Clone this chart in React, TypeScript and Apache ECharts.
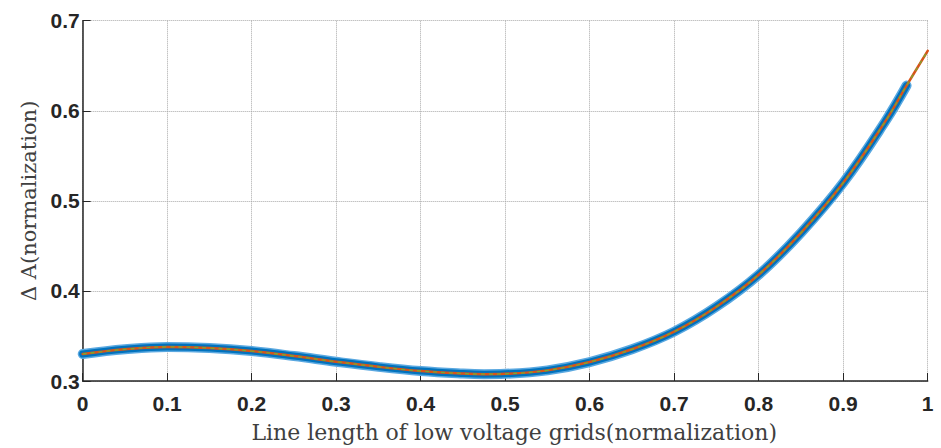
import React, { useEffect, useRef } from "react";
import * as echarts from "echarts";

// Normalized line length (x) and ΔA (y)
const lengthNorm = [0, 0.05, 0.1, 0.15, 0.2, 0.25, 0.3, 0.35, 0.4, 0.45, 0.475, 0.5, 0.55, 0.6, 0.65, 0.7, 0.75, 0.8, 0.85, 0.9, 0.95, 0.975, 1];
const deltaA = [0.330, 0.3352, 0.3378, 0.3366, 0.3332, 0.3277, 0.3214, 0.3157, 0.3111, 0.3083, 0.3076, 0.308, 0.3118, 0.321, 0.3352, 0.3548, 0.3825, 0.418, 0.4645, 0.52, 0.5885, 0.628, 0.6665];
// the thick sampled curve stops before x = 1
const sampledEnd = 0.975;

const xTickLabels = ["0", "0.1", "0.2", "0.3", "0.4", "0.5", "0.6", "0.7", "0.8", "0.9", "1"];
const yTickLabels = ["0.3", "0.4", "0.5", "0.6", "0.7"];

const fitPts = lengthNorm.map((x, i) => [x, deltaA[i]]);
const samplePts = fitPts.filter((p) => p[0] <= sampledEnd + 1e-9);

export default function App() {
  const ref = useRef<HTMLDivElement>(null);
  useEffect(() => {
    if (!ref.current) return;
    const chart = echarts.init(ref.current, undefined, { renderer: "svg" });
    const tickFont = {
      fontFamily: "Liberation Sans, Arial, sans-serif",
      fontWeight: "bold" as const,
      fontSize: 21,
      color: "#262626",
    };
    const nameFont = {
      fontFamily: "DejaVu Serif, serif",
      color: "#404040",
    };
    chart.setOption({
      animation: false,
      grid: { left: 82.7, right: 13.3, top: 20.7, bottom: 64, containLabel: false },
      xAxis: {
        type: "value",
        min: 0,
        max: 1,
        interval: 0.1,
        name: "Line length of low voltage grids(normalization)",
        nameLocation: "middle",
        nameGap: 40,
        nameTextStyle: { ...nameFont, fontSize: 22, padding: [0, 0, 0, 18] },
        axisLine: { show: true, onZero: false, lineStyle: { color: "#262626", width: 1.5 } },
        axisTick: { show: true, inside: true, length: 8, lineStyle: { color: "#262626", width: 1 } },
        axisLabel: {
          ...tickFont,
          margin: 12,
          formatter: (v: number) => xTickLabels[Math.round(v * 10)] ?? "",
        },
        splitLine: { show: true, lineStyle: { color: "#a8a8a8", type: "dotted", width: 1 } },
      },
      yAxis: {
        type: "value",
        min: 0.3,
        max: 0.7,
        interval: 0.1,
        name: "Δ A(normalization)",
        nameLocation: "middle",
        nameGap: 37,
        nameTextStyle: { ...nameFont, fontSize: 21 },
        axisLine: { show: true, onZero: false, lineStyle: { color: "#262626", width: 1.5 } },
        axisTick: { show: true, inside: true, length: 8, lineStyle: { color: "#262626", width: 1 } },
        axisLabel: {
          ...tickFont,
          margin: 3,
          formatter: (v: number) => yTickLabels[Math.round((v - 0.3) * 10)] ?? "",
        },
        splitLine: { show: true, lineStyle: { color: "#a8a8a8", type: "dotted", width: 1 } },
      },
      series: [
        {
          type: "line",
          data: samplePts,
          smooth: 0.4,
          showSymbol: false,
          lineStyle: { color: "#5aa8e0", width: 10, cap: "round", join: "round" },
          z: 2,
        },
        {
          type: "line",
          data: samplePts,
          smooth: 0.4,
          showSymbol: false,
          lineStyle: { color: "#0072BD", width: 7, cap: "round", join: "round" },
          z: 3,
        },
        {
          type: "line",
          data: fitPts,
          smooth: 0.4,
          showSymbol: false,
          lineStyle: { color: "#D95319", width: 2.5, cap: "round" },
          z: 4,
        },
        {
          type: "line",
          data: fitPts,
          smooth: 0.4,
          showSymbol: false,
          lineStyle: { color: "#77AC30", width: 1.3, type: [4, 4] },
          z: 5,
        },
      ],
    });
    return () => chart.dispose();
  }, []);
  return <div ref={ref} style={{ width: 941, height: 448, position: "absolute", left: 0, top: 0 }} />;
}
